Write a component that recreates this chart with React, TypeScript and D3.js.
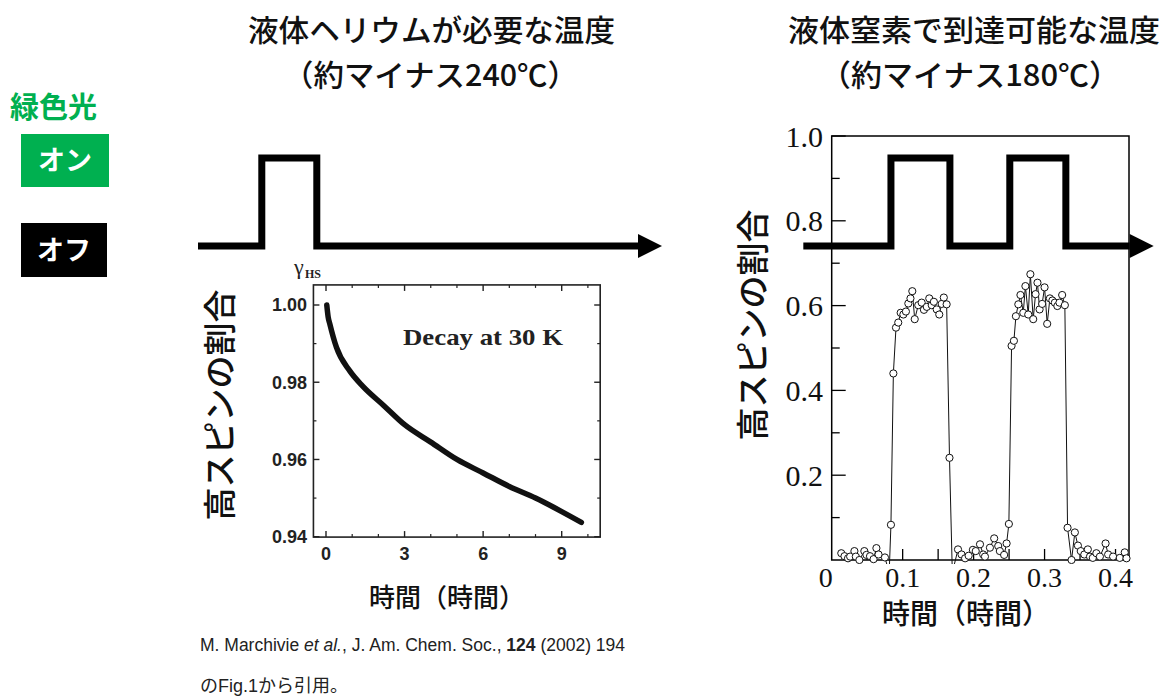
import React from "react";
import * as d3 from "d3";

// right panel: high-spin ratio vs time (hours), open circles
const rightData: [number, number][] = [
  [0.0135, 0.016], [0.018, 0.009], [0.023, 0.004], [0.026, 0.008], [0.032, 0.021],
  [0.034, 0.008], [0.039, 0.0], [0.046, 0.021], [0.049, 0.012], [0.054, 0.009],
  [0.059, 0.002], [0.063, 0.028], [0.066, 0.013], [0.075, 0.006], [0.081, -0.03],
  [0.0835, 0.083], [0.0869, 0.44], [0.0906, 0.548], [0.0938, 0.56], [0.0972, 0.583],
  [0.101, 0.579], [0.1046, 0.586], [0.108, 0.605], [0.111, 0.617], [0.1136, 0.634],
  [0.117, 0.568], [0.122, 0.601], [0.1268, 0.607], [0.13, 0.59], [0.134, 0.597],
  [0.1375, 0.617], [0.141, 0.601], [0.144, 0.609], [0.148, 0.591], [0.1516, 0.579],
  [0.155, 0.604], [0.158, 0.619], [0.162, 0.603], [0.166, 0.241], [0.17, -0.03],
  [0.178, 0.025], [0.183, 0.013], [0.188, 0.004], [0.193, 0.01], [0.199, 0.024],
  [0.203, 0.021], [0.209, 0.037], [0.2135, 0.013], [0.216, 0.008], [0.223, 0.029],
  [0.229, 0.051], [0.2347, 0.033], [0.237, 0.021], [0.243, 0.012], [0.2465, 0.039],
  [0.2497, 0.085], [0.2535, 0.505], [0.2568, 0.517], [0.2596, 0.575], [0.263, 0.603],
  [0.266, 0.625], [0.27, 0.583], [0.273, 0.646], [0.277, 0.579], [0.28, 0.674],
  [0.284, 0.568], [0.2873, 0.627], [0.29, 0.654], [0.293, 0.591], [0.2966, 0.604],
  [0.3, 0.643], [0.3037, 0.557], [0.3075, 0.617], [0.311, 0.612], [0.3145, 0.607],
  [0.318, 0.599], [0.321, 0.607], [0.3248, 0.625], [0.3286, 0.601], [0.3324, 0.076],
  [0.338, 0.0], [0.3427, 0.065], [0.347, 0.034], [0.351, 0.021], [0.356, 0.013],
  [0.361, 0.025], [0.364, 0.008], [0.368, 0.005], [0.373, 0.016], [0.378, 0.008],
  [0.386, 0.039], [0.3896, 0.013], [0.3966, 0.008], [0.406, 0.005], [0.413, 0.018],
  [0.4155, 0.004],
];
const rightYTicks = [0.2, 0.4, 0.6, 0.8, 1.0];
const rightYMinor = [0.1, 0.3, 0.5, 0.7, 0.9];
const rightXTicks = [0, 0.1, 0.2, 0.3, 0.4];
const rightXMinor = [0.05, 0.1, 0.15, 0.2, 0.25, 0.3, 0.35, 0.4];

// green light on/off signal (right panel uses the same time axis)
const rightLightT = [-0.04, 0.0835, 0.1666, 0.251, 0.33, 0.42];
const rightLightOn = [0, 1, 0, 1, 0, 0];
const leftLightT = [0, 1.45, 2.7, 10];
const leftLightOn = [0, 1, 0, 0];

// left inset: decay at 30 K (Marchivie et al.)
const decayT = [0.03, 0.08, 0.15, 0.4, 0.9, 1.4, 2.2, 3.0, 4.0, 5.0, 6.0, 7.0, 8.0, 9.0, 9.75];
const decayV = [1.0, 0.997, 0.995, 0.989, 0.983, 0.979, 0.974, 0.969, 0.9645, 0.96, 0.9565, 0.953, 0.95, 0.9465, 0.9437];
const insetYTicks = [0.94, 0.96, 0.98, 1.0];
const insetYMinor = [0.95, 0.97, 0.99];
const insetXTicks = [0, 3, 6, 9];
const insetXMinor = [1, 2, 4, 5, 7, 8, 10];

const jp = "'Noto Sans CJK JP', 'Noto Sans', sans-serif";
const serif = "'Liberation Serif', 'DejaVu Serif', serif";
const sans = "'Liberation Sans', Arial, sans-serif";

export default function App() {
  // right chart scales
  const xR = d3.scaleLinear().domain([0, 0.419]).range([831.7, 1129]);
  const yR = d3.scaleLinear().domain([0, 1]).range([560, 136]);

  // signal scales
  const ySig = d3.scaleLinear().domain([0, 1]).range([246, 158]);
  const xSigL = d3.scaleLinear().domain([0, 10]).range([198, 638]);

  // inset scales
  const xI = d3.scaleLinear().domain([0, 9]).range([326, 561.7]);
  const yI = d3.scaleLinear().domain([0.94, 1.0]).range([536.7, 305]);
  const insetL = xI(-0.48), insetR = xI(10.47), insetT = yI(1.0052), insetB = yI(0.9399);

  const leftSigPath = d3
    .line<number>()
    .curve(d3.curveStepAfter)
    .x((_, i) => xSigL(leftLightT[i]))
    .y((d) => ySig(d))(leftLightOn) as string;
  const rightSigPath = d3
    .line<number>()
    .curve(d3.curveStepAfter)
    .x((_, i) => xR(rightLightT[i]))
    .y((d) => ySig(d))(rightLightOn) as string;

  const arrow = (x: number) => {
    const y = ySig(0);
    return `M${x},${y - 12}L${x + 24},${y}L${x},${y + 12}Z`;
  };

  const rightLine = d3
    .line<[number, number]>()
    .x((d) => xR(d[0]))
    .y((d) => yR(d[1]))(rightData) as string;

  const decayLine = d3
    .line<number>()
    .curve(d3.curveMonotoneX)
    .x((d) => xI(d))
    .y((_, i) => yI(decayV[i]))(decayT) as string;

  return (
    <svg width={1168} height={698} style={{ position: "absolute", left: 0, top: 0, background: "#fff" }}>
      <defs>
        <clipPath id="rclip">
          <rect x={xR(0)} y={yR(1)} width={xR(0.419) - xR(0) + 6} height={yR(0) - yR(1) + 4} />
        </clipPath>
      </defs>

      {/* headings */}
      <g fontFamily={jp} fontSize={30} fontWeight={500} textAnchor="start" fill="#111">
        <text x={248} y={41} textLength={367} lengthAdjust="spacingAndGlyphs">液体ヘリウムが必要な温度</text>
        <text x={283} y={86} textLength={295} lengthAdjust="spacingAndGlyphs">（約マイナス240℃）</text>
        <text x={788} y={41} textLength={372} lengthAdjust="spacingAndGlyphs">液体窒素で到達可能な温度</text>
        <text x={820} y={86} textLength={300} lengthAdjust="spacingAndGlyphs">（約マイナス180℃）</text>
      </g>

      {/* legend */}
      <text x={10} y={118} fontFamily={jp} fontSize={29} fontWeight="bold" fill="#00b050">緑色光</text>
      <rect x={21} y={134} width={88} height={53} fill="#00b050" />
      <text x={65} y={170} textAnchor="middle" fontFamily={jp} fontSize={27} fontWeight="bold" fill="#fff">オン</text>
      <rect x={21} y={223} width={86} height={54} fill="#000" />
      <text x={64} y={260} textAnchor="middle" fontFamily={jp} fontSize={27} fontWeight="bold" fill="#fff">オフ</text>

      {/* light signals */}
      <path d={leftSigPath} fill="none" stroke="#000" strokeWidth={7} strokeLinejoin="miter" />
      <path d={arrow(xSigL(10))} fill="#000" />

      {/* left inset */}
      <g>
        <rect x={insetL} y={insetT} width={insetR - insetL} height={insetB - insetT} fill="none" stroke="#222" strokeWidth={1.6} />
        {insetYTicks.map((v) => (
          <g key={"iy" + v}>
            <line x1={insetL} x2={insetL + 6} y1={yI(v)} y2={yI(v)} stroke="#222" strokeWidth={1.4} />
            <line x1={insetR} x2={insetR - 6} y1={yI(v)} y2={yI(v)} stroke="#222" strokeWidth={1.4} />
            <text x={307} y={yI(v)} dy="0.36em" textAnchor="end" fontFamily={sans} fontWeight="bold" fontSize={18} fill="#222">
              {v.toFixed(2)}
            </text>
          </g>
        ))}
        {insetYMinor.map((v) => (
          <g key={"iym" + v}>
            <line x1={insetL} x2={insetL + 3} y1={yI(v)} y2={yI(v)} stroke="#222" strokeWidth={1.2} />
            <line x1={insetR} x2={insetR - 3} y1={yI(v)} y2={yI(v)} stroke="#222" strokeWidth={1.2} />
          </g>
        ))}
        {insetXTicks.map((v) => (
          <g key={"ix" + v}>
            <line x1={xI(v)} x2={xI(v)} y1={insetB} y2={insetB - 6} stroke="#222" strokeWidth={1.4} />
            <line x1={xI(v)} x2={xI(v)} y1={insetT} y2={insetT + 6} stroke="#222" strokeWidth={1.4} />
            <text x={xI(v)} y={560} textAnchor="middle" fontFamily={sans} fontWeight="bold" fontSize={18} fill="#222">
              {v}
            </text>
          </g>
        ))}
        {insetXMinor.map((v) => (
          <g key={"ixm" + v}>
            <line x1={xI(v)} x2={xI(v)} y1={insetB} y2={insetB - 3} stroke="#222" strokeWidth={1.2} />
            <line x1={xI(v)} x2={xI(v)} y1={insetT} y2={insetT + 3} stroke="#222" strokeWidth={1.2} />
          </g>
        ))}
        <path d={decayLine} fill="none" stroke="#111" strokeWidth={5.5} strokeLinecap="round" />
        <text x={294} y={274} fontFamily={serif} fontSize={22} fill="#222">γ</text>
        <text x={305} y={278} fontFamily={serif} fontSize={12} fontWeight="bold" fill="#222">HS</text>
        <text x={403} y={345} fontFamily={serif} fontSize={23} fontWeight="bold" fill="#222" textLength={160} lengthAdjust="spacingAndGlyphs">
          Decay at 30 K
        </text>
      </g>

      {/* left axis titles */}
      <text transform="translate(232,405) rotate(-90)" textAnchor="middle" fontFamily={jp} fontWeight={500} fontSize={33} fill="#111">高スピンの割合</text>
      <text x={447} y={607} textAnchor="middle" fontFamily={jp} fontWeight={500} fontSize={26} fill="#111">時間（時間）</text>

      {/* right chart */}
      <rect x={xR(0)} y={yR(1)} width={xR(0.419) - xR(0)} height={yR(0) - yR(1)} fill="none" stroke="#000" strokeWidth={1.5} />
      {rightYTicks.map((v) => (
        <g key={"ry" + v}>
          <line x1={xR(0)} x2={xR(0) + 14} y1={yR(v)} y2={yR(v)} stroke="#000" strokeWidth={1.3} />
          <text x={823} y={yR(v)} dy="0.35em" textAnchor="end" fontFamily={serif} fontSize={30} fill="#111">
            {v.toFixed(1)}
          </text>
        </g>
      ))}
      {rightYMinor.map((v) => (
        <line key={"rym" + v} x1={xR(0)} x2={xR(0) + 8} y1={yR(v)} y2={yR(v)} stroke="#000" strokeWidth={1.3} />
      ))}
      {rightXMinor.map((v) => (
        <line key={"rxm" + v} x1={xR(v)} x2={xR(v)} y1={yR(0)} y2={yR(0) - 11} stroke="#000" strokeWidth={1.3} />
      ))}
      {rightXTicks.map((v) => (
        <text key={"rx" + v} x={xR(v) - (v === 0 ? 6 : 0)} y={587} textAnchor="middle" fontFamily={serif} fontSize={28} fill="#111">
          {v === 0 ? "0" : v.toFixed(1)}
        </text>
      ))}
      <g clipPath="url(#rclip)">
        <path d={rightLine} fill="none" stroke="#111" strokeWidth={1} />
        {rightData.map((d, i) => (
          <circle key={i} cx={xR(d[0])} cy={yR(d[1])} r={3.6} fill="#fff" stroke="#111" strokeWidth={1} />
        ))}
      </g>
      <path d={rightSigPath} fill="none" stroke="#000" strokeWidth={7} strokeLinejoin="miter" />
      <path d={arrow(xR(0.42))} fill="#000" />

      <text transform="translate(765,325) rotate(-90)" textAnchor="middle" fontFamily={jp} fontWeight={500} fontSize={33} fill="#111">高スピンの割合</text>
      <text x={966} y={624} textAnchor="middle" fontFamily={jp} fontWeight={500} fontSize={28} fill="#111">時間（時間）</text>

      {/* citation */}
      <text x={200} y={651} fontFamily={sans} fontSize={17.5} fill="#222">
        M. Marchivie <tspan fontStyle="italic">et al.</tspan>, J. Am. Chem. Soc., <tspan fontWeight="bold">124</tspan> (2002) 194
      </text>
      <text x={200} y={692} fontFamily={sans} fontSize={18} fill="#222">
        <tspan fontFamily={jp}>の</tspan>Fig.1<tspan fontFamily={jp}>から引用。</tspan>
      </text>
    </svg>
  );
}
